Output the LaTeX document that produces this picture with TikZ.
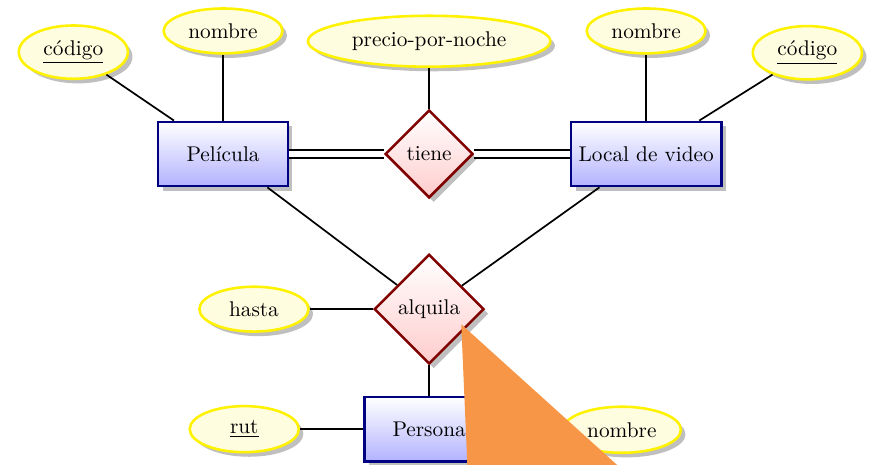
\documentclass[tikz,border=0pt]{standalone}
\usepackage{fontspec}
\usepackage{tikz}
\usetikzlibrary{shapes,shadows,positioning}
\definecolor{naranja}{RGB}{247,150,70}
\tikzset{entidad/.style={rectangle,draw=blue!50!black,very thick,top color=white,
    bottom color=blue!30,drop shadow,minimum width=2.14cm,minimum height=1.06cm},
  atributo/.style={ellipse,draw=yellow,very thick,fill=yellow!12,drop shadow,
    minimum width=1.8cm,minimum height=0.74cm},
  relacion/.style={diamond,aspect=1,draw=red!50!black,very thick,top color=white,
    bottom color=red!20,drop shadow,inner sep=1pt},
  linea/.style={thick},
  doble/.style={thick,double,double distance=3pt}}

\begin{document}
\begin{tikzpicture}
  \useasboundingbox (-7.08,-5.13) rectangle (7.29,2.54);

  % entidades y relaciones
  \node [relacion,minimum size=1.45cm] (tiene) at (0,0) {tiene};
  \node [entidad] (pelicula) at (-3.40,0) {Película};
  \node [entidad,minimum width=2.48cm] (local) at (3.58,0) {Local de video};
  \node [relacion,minimum size=1.81cm] (alquila) at (0,-2.56) {alquila};
  \node [entidad] (persona) at (0,-4.54) {Persona};

  % atributos
  \node [atributo,minimum width=4cm,minimum height=0.84cm] (precio) at (0,1.86) {precio-por-noche};
  \node [atributo,minimum width=1.96cm] (nombrep) at (-3.40,2.03) {nombre};
  \node [atributo,minimum height=0.88cm] (codigop) at (-5.87,1.68) {\underline{código}};
  \node [atributo,minimum width=1.96cm] (nombrel) at (3.58,2.03) {nombre};
  \node [atributo,minimum height=0.88cm] (codigol) at (6.24,1.67) {\underline{código}};
  \node [atributo] (hasta) at (-2.89,-2.56) {hasta};
  \node [atributo,minimum height=0.76cm] (rut) at (-3.05,-4.54) {\underline{rut}};
  \node [atributo,minimum width=1.94cm,minimum height=0.76cm] (nombrepe) at (3.18,-4.55) {nombre};

  \draw [doble] (pelicula) -- (tiene);
  \draw [doble] (tiene) -- (local);
  \draw [linea] (tiene) -- (precio);
  \draw [linea] (pelicula) -- (nombrep);
  \draw [linea] (pelicula) -- (codigop);
  \draw [linea] (local) -- (nombrel);
  \draw [linea] (local) -- (codigol);
  \draw [linea] (pelicula) -- (alquila);
  \draw [linea] (local) -- (alquila);
  \draw [linea] (hasta) -- (alquila);
  \draw [linea] (alquila) -- (persona);
  \draw [linea] (rut) -- (persona);
  \draw [linea] (persona) -- (nombrepe);

  \fill [naranja] (0.53,-2.81) -- (0.63,-5.13) -- (3.10,-5.13) -- cycle;
\end{tikzpicture}
\end{document}
